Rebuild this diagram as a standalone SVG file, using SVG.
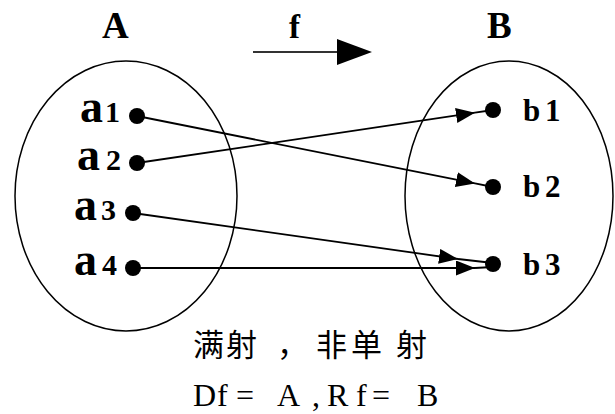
<svg xmlns="http://www.w3.org/2000/svg" width="615" height="414" viewBox="0 0 615 414">
<style>
.set{fill:none;stroke:#000;stroke-width:1.5}
.ttl{font-family:"Liberation Serif",serif;font-weight:bold;font-size:37px;fill:#000}
.a{font-family:"Liberation Serif",serif;font-weight:bold;fill:#000}
.b{font-family:"Liberation Serif",serif;font-weight:bold;font-size:31px;fill:#000}
.dot{fill:#000}
.con{fill:none;stroke:#000;stroke-width:1.8}
.cn{font-family:"Noto Sans CJK SC",sans-serif;font-size:31px;fill:#000}
.df{font-family:"Liberation Serif",serif;font-size:32px;fill:#000}
</style>
<defs>
<marker id="ah" markerUnits="userSpaceOnUse" markerWidth="22" markerHeight="18" refX="19" refY="7.5" orient="auto">
<path d="M0,0 L19,7.5 L0,15 z" fill="#000"/>
</marker>
</defs>
<rect width="615" height="414" fill="#fff"/>
<g id="setA">
<ellipse class="set" cx="126" cy="196" rx="111" ry="135"/>
<text class="ttl" x="102" y="38">A</text>
</g>
<g id="setB">
<ellipse class="set" cx="509" cy="196" rx="104" ry="135"/>
<text class="ttl" x="487" y="38">B</text>
</g>
<g id="map-f">
<text class="ttl" x="289" y="38" style="font-size:33px">f</text>
<line x1="253" y1="52" x2="338" y2="52" stroke="#333" stroke-width="2"/>
<path d="M337,39 L372,52 L337,65 z" fill="#000"/>
</g>
<g id="a1"><text class="a" x="80" y="122"><tspan style="font-size:46px">a</tspan><tspan x="105" style="font-size:30px">1</tspan></text><circle class="dot" cx="137" cy="116" r="8"/></g>
<g id="a2"><text class="a" x="77" y="170"><tspan style="font-size:46px">a</tspan><tspan x="106" style="font-size:30px">2</tspan></text><circle class="dot" cx="137" cy="163" r="8"/></g>
<g id="a3"><text class="a" x="74" y="220"><tspan style="font-size:46px">a</tspan><tspan x="101" style="font-size:30px">3</tspan></text><circle class="dot" cx="133" cy="213" r="8"/></g>
<g id="a4"><text class="a" x="74" y="275"><tspan style="font-size:46px">a</tspan><tspan x="102" style="font-size:30px">4</tspan></text><circle class="dot" cx="133" cy="268" r="8"/></g>
<g id="b1"><circle class="dot" cx="493" cy="110" r="8"/><text class="b" x="523" y="121">b<tspan x="545">1</tspan></text></g>
<g id="b2"><circle class="dot" cx="493" cy="187" r="8"/><text class="b" x="523" y="197">b<tspan x="545">2</tspan></text></g>
<g id="b3"><circle class="dot" cx="493" cy="264" r="8"/><text class="b" x="523" y="275">b<tspan x="545">3</tspan></text></g>
<g id="connectors">
<path class="con" d="M137,116 L475,183.4" marker-end="url(#ah)"/>
<path class="con" d="M475,183.4 L493,187"/>
<path class="con" d="M137,163 L475,112.7" marker-end="url(#ah)"/>
<path class="con" d="M475,112.7 L493,110"/>
<path class="con" d="M133,213 L458,259" marker-end="url(#ah)"/>
<path class="con" d="M458,259 L493,263"/>
<path class="con" d="M133,268 L475,268" marker-end="url(#ah)"/>
<path class="con" d="M475,268 L493,267"/>
</g>
<g id="caption">
<text class="cn" y="356"><tspan x="193">满</tspan><tspan x="226">射</tspan><tspan x="277">，</tspan><tspan x="316">非</tspan><tspan x="351">单</tspan><tspan x="396">射</tspan></text>
<text class="df" y="406"><tspan x="193">D</tspan><tspan x="217">f</tspan><tspan x="236">=</tspan><tspan x="277">A</tspan><tspan x="312">,</tspan><tspan x="327">R</tspan><tspan x="356">f</tspan><tspan x="372">=</tspan><tspan x="417">B</tspan></text>
</g>
</svg>
